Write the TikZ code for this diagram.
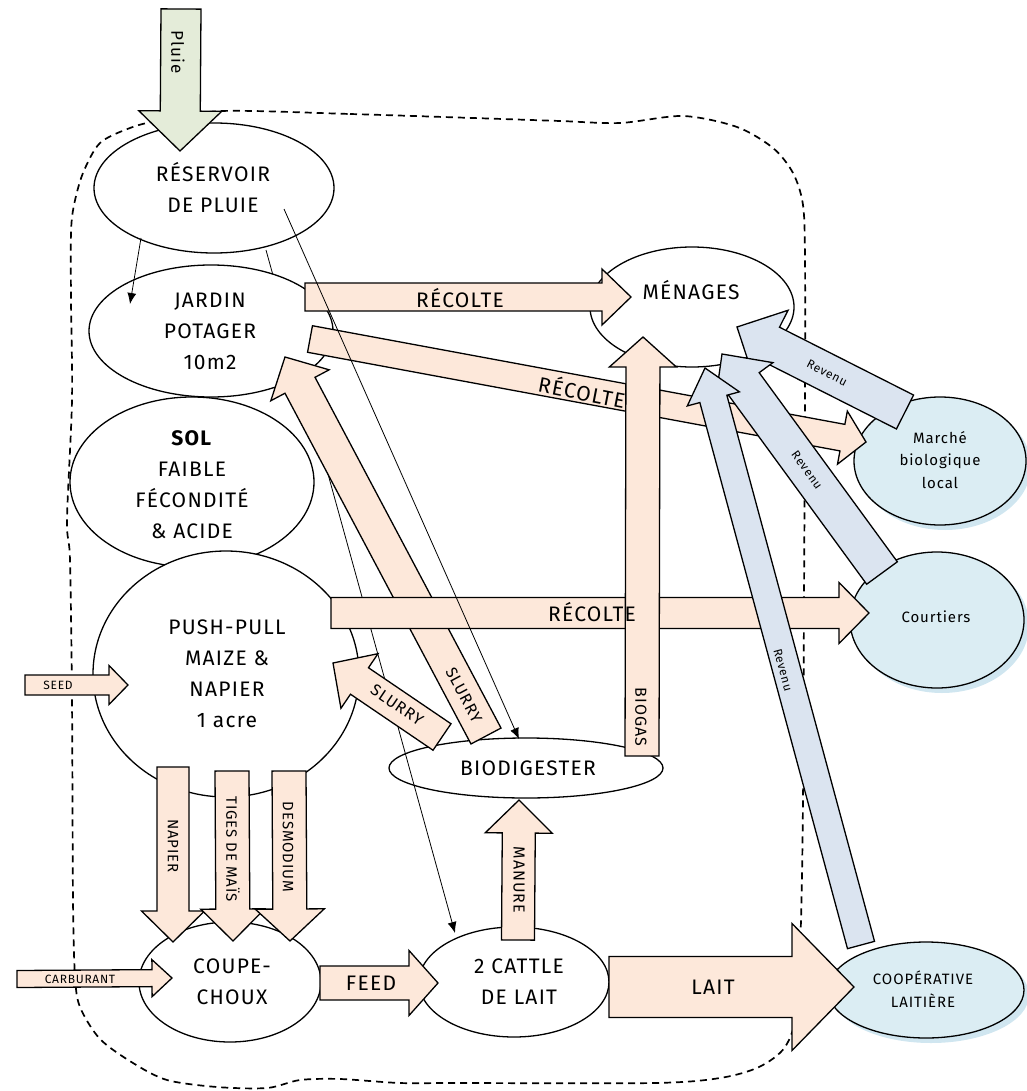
\documentclass[tikz,border=0pt]{standalone}
\usepackage{fontspec}
\setmainfont{Fira Sans}[LetterSpace=6]
\usetikzlibrary{shapes.geometric,calc,arrows.meta}
\definecolor{peach}{RGB}{253,232,218}
\definecolor{bluearr}{RGB}{219,228,240}
\definecolor{greenarr}{RGB}{228,236,217}
\definecolor{cyanfill}{RGB}{219,237,243}
\definecolor{cyanshadow}{RGB}{208,230,240}
\newcommand{\blockarr}[6]{%
  \coordinate (tmp-h) at ($(#3)!#6!(#2)$);
  \draw[#1] ($(#2)!#4!90:(#3)$) -- ($(tmp-h)!#4!90:(#3)$) -- ($(tmp-h)!#5!90:(#3)$) -- (#3)
    -- ($(tmp-h)!#5!-90:(#3)$) -- ($(tmp-h)!#4!-90:(#3)$) -- ($(#2)!#4!-90:(#3)$) -- cycle;}
\begin{document}
\begin{tikzpicture}[x=1pt,y=-1pt,
  ell/.style={ellipse, draw, line width=1.3pt, fill=white, inner sep=0pt, outer sep=0pt},
  ellc/.style={ell, fill=cyanfill},
  shad/.style={ellipse, fill=cyanshadow, inner sep=0pt},
  txt/.style={font=\fontsize{21}{31}\selectfont, align=center, inner sep=0pt},
  stxt/.style={font=\fontsize{15}{22.5}\selectfont, align=center, inner sep=0pt},
  atxt/.style={font=\fontsize{16}{16}\selectfont, inner sep=0pt},
  ttxt/.style={font=\fontsize{12}{12}\selectfont, inner sep=0pt},
  pa/.style={draw, line width=1.3pt, fill=peach},
  ba/.style={draw, line width=1.3pt, fill=bluearr},
  ga/.style={draw, line width=1.3pt, fill=greenarr},
  thinarr/.style={line width=0.8pt, -{Latex[length=11pt,width=9pt]}},
  bound/.style={line width=1.7pt, dash pattern=on 7pt off 5pt}
]
\useasboundingbox (0,0) rectangle (1026,1091);
% boundary
\draw[bound] plot[smooth cycle, tension=0.5] coordinates {
 (222,111) (350,114) (473,118) (560,121) (620,123) (683,116) (737,127) (773,148)
 (793,173) (803,205) (805,260) (805,400) (804,600) (803,800) (801,920) (797,1010)
 (785,1047) (759,1067) (720,1078) (654,1083) (458,1083) (400,1083) (340,1079)
 (300,1080) (267,1088) (217,1087) (167,1080) (133,1063) (100,1039) (80,1007)
 (75,976) (73,900) (72,700) (70,560) (67,520) (72,400) (71,300) (71,233)
 (74,205) (83,173) (100,143) (130,128) (157,121)};
% coordinates
\coordinate (r1s) at (305,297); \coordinate (r1e) at (631,297);
\coordinate (r2s) at (310,339); \coordinate (r2e) at (866,442);
\coordinate (r3s) at (331,613); \coordinate (r3e) at (869,613);
\coordinate (bgs) at (642,756); \coordinate (bge) at (643,337);
\coordinate (sls) at (486,736); \coordinate (sle) at (285,357);
\coordinate (sss) at (442,737); \coordinate (sse) at (333,663);
\coordinate (nps) at (173,767); \coordinate (npe) at (173,942);
\coordinate (tgs) at (232,771); \coordinate (tge) at (233,941);
\coordinate (dss) at (289,771); \coordinate (dse) at (290,941);
\coordinate (sds) at (25,685);  \coordinate (sde) at (128,685);
\coordinate (cbs) at (17,979);  \coordinate (cbe) at (172,978);
\coordinate (fds) at (320,983); \coordinate (fde) at (438,983);
\coordinate (mns) at (518,940); \coordinate (mne) at (519,800);
\coordinate (lts) at (609,987); \coordinate (lte) at (854,987);
\coordinate (rvas) at (905,412); \coordinate (rvae) at (737,327);
\coordinate (rvbs) at (882,573); \coordinate (rvbe) at (722,354);
\coordinate (rvcs) at (861,945); \coordinate (rvce) at (705,368);
\coordinate (pls) at (181,9);   \coordinate (ple) at (180,151);
\coordinate (l1s) at (284,209); \coordinate (l1e) at (519,739);
\coordinate (l2s) at (266,250); \coordinate (l2e) at (455,933);
\coordinate (l3s) at (141,238); \coordinate (l3e) at (130,304);
% shadows
\node[shad, minimum width=172pt, minimum height=128pt] (marche-s) at (945,466) {};
\node[shad, minimum width=174pt, minimum height=136pt] (court-s) at (942,625) {};
\node[shad, minimum width=196pt, minimum height=96pt] (coop-s) at (931,995) {};
% ellipses
\node[ell, minimum width=240pt, minimum height=130pt] (res) at (214,188) {};
\node[ell, minimum width=244pt, minimum height=170pt] (sol) at (192,482) {};
\node[ell, minimum width=266pt, minimum height=246pt] (pp) at (226,674) {};
\node[ell, minimum width=274pt, minimum height=60pt] (bio) at (526,768) {};
\node[ell, minimum width=182pt, minimum height=120pt] (coupe) at (230,982) {};
\node[ell, minimum width=190pt, minimum height=110pt] (cattle) at (514,982) {};
\node[ell, minimum width=204pt, minimum height=120pt] (men) at (692,307) {};
\node[ellc, minimum width=172pt, minimum height=128pt] (marche) at (940,461) {};
\node[ellc, minimum width=174pt, minimum height=136pt] (court) at (937,620) {};
\node[ellc, minimum width=196pt, minimum height=96pt] (coop) at (926,990) {};
\draw[thinarr] (l2s) -- (l2e);
\node[ell, minimum width=244pt, minimum height=132pt] (jar) at (211,331) {};
% block arrows
\blockarr{pa}{sls}{sle}{17pt}{33pt}{32pt}
\blockarr{pa}{sss}{sse}{16pt}{33pt}{32pt}
\blockarr{pa}{r1s}{r1e}{14pt}{28pt}{29pt}
\blockarr{pa}{r2s}{r2e}{13.5pt}{27pt}{24pt}
\blockarr{pa}{r3s}{r3e}{15.5pt}{30.5pt}{30pt}
\blockarr{pa}{bgs}{bge}{17pt}{33.5pt}{30pt}
\blockarr{pa}{nps}{npe}{16pt}{31.5pt}{31pt}
\blockarr{pa}{tgs}{tge}{17pt}{32pt}{32pt}
\blockarr{pa}{dss}{dse}{17pt}{34.5pt}{32pt}
\blockarr{pa}{sds}{sde}{10pt}{19.5pt}{19pt}
\blockarr{pa}{cbs}{cbe}{8.5pt}{18.5pt}{20pt}
\blockarr{pa}{fds}{fde}{17pt}{32.5pt}{29pt}
\blockarr{pa}{mns}{mne}{16.5pt}{33.5pt}{33pt}
\blockarr{pa}{lts}{lte}{30.5pt}{63.5pt}{62pt}
\blockarr{ba}{rvas}{rvae}{19pt}{38pt}{38pt}
\blockarr{ba}{rvbs}{rvbe}{19pt}{36pt}{37pt}
\blockarr{ba}{rvcs}{rvce}{14pt}{27pt}{32pt}
\blockarr{ga}{pls}{ple}{20pt}{41.5pt}{40pt}
% thin arrows on top
\draw[thinarr] (l1s) -- (l1e);
\draw[thinarr] (l3s) -- (l3e);
% node texts
\node[txt] (res-t) at (213,188) {RÉSERVOIR\\DE PLUIE};
\node[txt] (jar-t) at (210,331) {JARDIN\\POTAGER\\10m2};
\node[txt] (sol-t) at (192,485) {\textbf{SOL}\\FAIBLE\\FÉCONDITÉ\\\&\ ACIDE};
\node[txt] (pp-t) at (227,674) {PUSH-PULL\\MAIZE \&\\NAPIER\\1 acre};
\node[txt] (bio-t) at (528,768) {BIODIGESTER};
\node[txt] (men-t) at (691,290) {MÉNAGES};
\node[stxt] (marche-t) at (940,460) {Marché\\biologique\\local};
\node[stxt] (court-t) at (936,617) {Courtiers};
\node[stxt] (coop-t) at (923,989) {COOPÉRATIVE\\LAITIÈRE};
\node[txt] (coupe-t) at (232,982) {COUPE-\\CHOUX};
\node[txt] (cattle-t) at (519,982) {2 CATTLE\\DE LAIT};
% arrow labels
\node[atxt, font=\fontsize{17}{17}\selectfont, rotate=-90] (pluie-t) at (178,52) {Pluie};
\node[txt] (r1-t) at (460,298) {RÉCOLTE};
\node[txt, rotate=-11] (r2-t) at (582,391) {RÉCOLTE};
\node[txt] (r3-t) at (592,612) {RÉCOLTE};
\node[atxt, rotate=-90] (bg-t) at (641,717) {BIOGAS};
\node[atxt, rotate=-62] (sl-t) at (464,695) {SLURRY};
\node[atxt, rotate=-34] (ss-t) at (397,705) {SLURRY};
\node[atxt, font=\fontsize{15}{15}\selectfont, rotate=-90] (np-t) at (173,846) {NAPIER};
\node[atxt, font=\fontsize{15}{15}\selectfont, rotate=-90] (tg-t) at (233,849) {TIGES DE MAÏS};
\node[atxt, font=\fontsize{15}{15}\selectfont, rotate=-90] (ds-t) at (288,847) {DESMODIUM};
\node[atxt, rotate=-90] (mn-t) at (519,880) {MANURE};
\node[txt] (fd-t) at (371,983) {FEED};
\node[txt] (lt-t) at (713,987) {LAIT};
\node[ttxt] (sd-t) at (58,685) {SEED};
\node[ttxt] (cb-t) at (80,979) {CARBURANT};
\node[ttxt, rotate=-27] (rva-t) at (827,373) {Revenu};
\node[ttxt, rotate=-54] (rvb-t) at (807,470) {Revenu};
\node[ttxt, rotate=-75] (rvc-t) at (783,670) {Revenu};
\end{tikzpicture}
\end{document}
